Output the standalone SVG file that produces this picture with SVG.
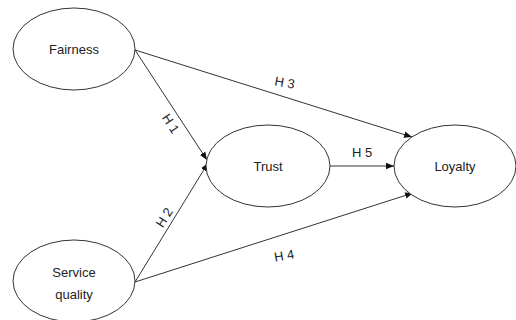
<svg xmlns="http://www.w3.org/2000/svg" width="516" height="320" viewBox="0 0 516 320">
<style>
.node ellipse{fill:#fff;stroke:#333;stroke-width:1}
.lbl{font-family:"Liberation Sans",Arial,sans-serif;font-size:13px;fill:#222;text-anchor:middle}
.edge{stroke:#333;stroke-width:1;fill:none;marker-end:url(#ah)}
</style>
<defs>
<marker id="ah" viewBox="0 0 10 10" refX="10" refY="5" markerWidth="8" markerHeight="8" markerUnits="userSpaceOnUse" orient="auto">
<path d="M0,1 L10,5 L0,9 Z" fill="#111"/>
</marker>
</defs>
<rect width="516" height="320" fill="#fff"/>
<g id="connectors">
<line class="edge" x1="135" y1="50" x2="207" y2="160"/>
<line class="edge" x1="135" y1="50" x2="412" y2="137"/>
<line class="edge" x1="135" y1="282" x2="208" y2="163"/>
<line class="edge" x1="135" y1="282" x2="413" y2="193"/>
<line class="edge" x1="330" y1="166" x2="394" y2="166"/>
<text class="lbl" transform="translate(167,126) rotate(57)">H 1</text>
<text class="lbl" transform="translate(168,220) rotate(-58)">H 2</text>
<text class="lbl" transform="translate(284,87) rotate(10)">H 3</text>
<text class="lbl" transform="translate(285,260) rotate(-10)">H 4</text>
<text class="lbl" x="362" y="157">H 5</text>
</g>
<g id="fairness" class="node">
<ellipse cx="74" cy="49" rx="61" ry="41"/>
<text class="lbl" x="74" y="54">Fairness</text>
</g>
<g id="service-quality" class="node">
<ellipse cx="74" cy="281" rx="61" ry="41"/>
<text class="lbl" x="74" y="277">Service</text>
<text class="lbl" x="74" y="299">quality</text>
</g>
<g id="trust" class="node">
<ellipse cx="268" cy="166" rx="62" ry="41"/>
<text class="lbl" x="268" y="171">Trust</text>
</g>
<g id="loyalty" class="node">
<ellipse cx="455" cy="166" rx="61" ry="41"/>
<text class="lbl" x="455" y="171">Loyalty</text>
</g>
</svg>
